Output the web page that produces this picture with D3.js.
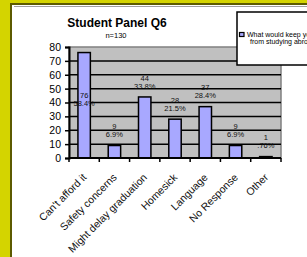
<!DOCTYPE html>
<html>
<head>
<meta charset="utf-8">
<script src="https://cdn.jsdelivr.net/npm/d3@7"></script>
<style>
  body { margin: 0; background: #d4d400; overflow: hidden; }
  svg { display: block; font-family: Arial, "Liberation Sans", sans-serif; }
</style>
</head>
<body>
<div id="chart"></div>
<script>
const categories = ["Can't afford it", "Safety concerns", "Might delay graduation", "Homesick", "Language", "No Response", "Other"];
const counts = [76, 9, 44, 28, 37, 9, 1];
const percents = ["58.4%", "6.9%", "33.8%", "21.5%", "28.4%", "6.9%", ".76%"];
const yTicks = [0, 10, 20, 30, 40, 50, 60, 70, 80];
const legendLines = ["What would keep you", "from studying abroad?"];

const W = 307, H = 257;
const plot = { left: 69, right: 281, top: 47, bottom: 158 };

const svg = d3.select("#chart").append("svg")
    .attr("width", W)
    .attr("height", H);

// yellow slide background and white panel
svg.append("rect").attr("width", W).attr("height", H).attr("fill", "#d4d400");
svg.append("rect").attr("x", 10).attr("y", 3).attr("width", W).attr("height", H)
    .attr("fill", "#5c5a00");
svg.append("rect").attr("x", 12).attr("y", 5).attr("width", W).attr("height", H)
    .attr("fill", "white");
svg.append("line").attr("x1", 14).attr("x2", W).attr("y1", 6.5).attr("y2", 6.5)
    .attr("stroke", "#a0a0a0").attr("stroke-width", 1);

const x = d3.scaleBand()
    .domain(categories)
    .range([plot.left, plot.right])
    .paddingInner(0.59)
    .paddingOuter(0.295);

const y = d3.scaleLinear()
    .domain([0, 80])
    .range([plot.bottom, plot.top]);

// plot area
svg.append("rect")
    .attr("x", plot.left).attr("y", plot.top)
    .attr("width", plot.right - plot.left).attr("height", plot.bottom - plot.top)
    .attr("fill", "#c0c0c0")
    .attr("stroke", "#808080")
    .attr("stroke-width", 1.5);

svg.append("g")
    .selectAll("line")
    .data(yTicks.filter(d => d > 0 && d < 80))
    .join("line")
    .attr("x1", plot.left).attr("x2", plot.right)
    .attr("y1", d => y(d)).attr("y2", d => y(d))
    .attr("stroke", "#000")
    .attr("stroke-width", 1.5);

// bars
svg.append("g")
    .selectAll("rect")
    .data(counts)
    .join("rect")
    .attr("x", (d, i) => x(categories[i]))
    .attr("y", d => y(d))
    .attr("width", x.bandwidth())
    .attr("height", d => y(0) - y(d))
    .attr("fill", "#a8a8ff")
    .attr("stroke", "#000")
    .attr("stroke-width", 1.5);

// axes
const axisL = d3.axisLeft(y)
    .tickValues(yTicks)
    .tickSize(4)
    .tickPadding(4);

svg.append("g")
    .attr("transform", `translate(${plot.left},0)`)
    .call(axisL)
    .call(g => g.select(".domain").attr("stroke-width", 2))
    .call(g => g.selectAll("line").attr("stroke-width", 1.5))
    .call(g => g.selectAll("text").attr("font-size", 10.5).attr("fill", "#000"));

const edges = d3.range(categories.length + 1).map(i => plot.left + i * x.step());
svg.append("g")
    .selectAll("line")
    .data(edges)
    .join("line")
    .attr("x1", d => d).attr("x2", d => d)
    .attr("y1", plot.bottom).attr("y2", plot.bottom + 4)
    .attr("stroke", "#000")
    .attr("stroke-width", 1.5);

svg.append("line")
    .attr("x1", plot.left).attr("x2", plot.right)
    .attr("y1", plot.bottom).attr("y2", plot.bottom)
    .attr("stroke", "#000")
    .attr("stroke-width", 2);

svg.append("g")
    .selectAll("text")
    .data(categories)
    .join("text")
    .attr("transform", d => `translate(${x(d) + x.bandwidth() / 2 + 3},178) rotate(-45)`)
    .attr("text-anchor", "end")
    .attr("font-size", 10.5)
    .attr("fill", "#111")
    .text(d => d);

// data labels
const labels = svg.append("g")
    .attr("font-size", 7.5)
    .attr("fill", "#111")
    .attr("text-anchor", "middle");

counts.forEach((v, i) => {
    const cx = x(categories[i]) + x.bandwidth() / 2;
    let y1 = y(v) - 19;
    if (y1 - 4 < plot.top) y1 = (y(v) + y(0)) / 2 - 10;
    labels.append("text").attr("x", cx).attr("y", y1).attr("dy", "0.35em").text(v);
    labels.append("text").attr("x", cx).attr("y", y1 + 8).attr("dy", "0.35em").text(percents[i]);
});

// title
svg.append("text")
    .attr("x", 117).attr("y", 23)
    .attr("dy", "0.35em")
    .attr("text-anchor", "middle")
    .attr("font-size", 12)
    .attr("font-weight", "bold")
    .text("Student Panel Q6");

svg.append("text")
    .attr("x", 116).attr("y", 35)
    .attr("dy", "0.35em")
    .attr("text-anchor", "middle")
    .attr("font-size", 7.5)
    .text("n=130");

// legend
const legend = svg.append("g");
legend.append("rect")
    .attr("x", 237).attr("y", 12)
    .attr("width", 120).attr("height", 53)
    .attr("fill", "white")
    .attr("stroke", "#000")
    .attr("stroke-width", 1.5);
legend.append("rect")
    .attr("x", 239.5).attr("y", 32.5)
    .attr("width", 4.5).attr("height", 4)
    .attr("fill", "#a8a8ff")
    .attr("stroke", "#000")
    .attr("stroke-width", 1.2);
legend.selectAll("text.l")
    .data(legendLines)
    .join("text")
    .attr("x", (d, i) => i === 0 ? 247 : 250)
    .attr("y", (d, i) => 35 + i * 6.5)
    .attr("dy", "0.35em")
    .attr("font-size", 7)
    .text(d => d);
</script>
</body>
</html>
